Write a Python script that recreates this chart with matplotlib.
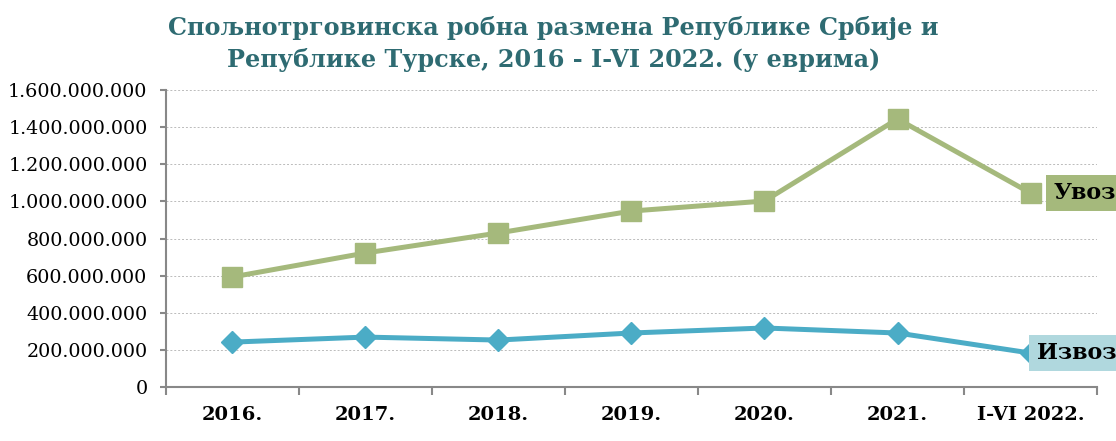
import matplotlib.pyplot as plt
from matplotlib.ticker import FuncFormatter, MultipleLocator
import numpy as np

years = ["2016.", "2017.", "2018.", "2019.", "2020.", "2021.", "I-VI 2022."]
uvoz = [593e6, 722e6, 830e6, 948e6, 1002e6, 1444e6, 1045e6]
izvoz = [242e6, 269e6, 253e6, 291e6, 318e6, 291e6, 183e6]

green = "#a5b97c"
blue = "#4bacc6"

plt.rcParams["font.family"] = ["DejaVu Serif"]

fig = plt.figure(figsize=(11.16, 4.41), dpi=100)
ax = fig.add_axes([0.1487, 0.1224, 0.8343, 0.6735])

x = np.arange(len(years))
ax.plot(x, uvoz, color=green, lw=3.6, marker="s", ms=14, zorder=3)
ax.plot(x, izvoz, color=blue, lw=3.6, marker="D", ms=11.5, zorder=3)

ax.set_xlim(-0.5, len(years) - 0.5)
ax.set_ylim(0, 1.6e9)
ax.yaxis.set_major_locator(MultipleLocator(2e8))
ax.yaxis.set_major_formatter(
    FuncFormatter(lambda v, p: f"{int(v):,}".replace(",", "."))
)
ax.grid(axis="y", color="#bbbbbb", ls=(0, (2, 2)), lw=0.7)
ax.set_axisbelow(True)

ax.set_xticks(x)
ax.set_xticklabels(years, fontweight="bold", fontsize=14)
ax.set_xticks(np.arange(-0.5, len(years)), minor=True)
ax.tick_params(axis="x", which="major", length=0, pad=14)
ax.tick_params(axis="x", which="minor", length=6, color="#888888", width=1.5)
ax.tick_params(axis="y", length=4.3, color="#888888", width=1.5, labelsize=13.8, pad=9)

for side in ["top", "right"]:
    ax.spines[side].set_visible(False)
for side in ["left", "bottom"]:
    ax.spines[side].set_color("#888888")
    ax.spines[side].set_linewidth(1.5)

# подписи серий справа
ax.annotate("Увоз", xy=(x[-1], uvoz[-1]), xytext=(16.5, 0), textcoords="offset points",
            ha="left", va="center", fontsize=16, fontweight="bold", annotation_clip=False,
            bbox=dict(boxstyle="square,pad=0.33", fc=green, ec="none"))
ax.annotate("Извоз", xy=(x[-1], izvoz[-1]), xytext=(4.5, 0), textcoords="offset points",
            ha="left", va="center", fontsize=16, fontweight="bold", annotation_clip=False,
            bbox=dict(boxstyle="square,pad=0.33", fc="#b0d8de", ec="none"))

fig.text(0.496, 0.901, "Спољнотрговинска робна размена Републике Србије и\nРепублике Турске, 2016 - I-VI 2022. (у еврима)",
         ha="center", va="center", fontsize=17.2, fontweight="bold", color="#2e6b72",
         linespacing=1.43)

fig.savefig("out.png", dpi=100)
